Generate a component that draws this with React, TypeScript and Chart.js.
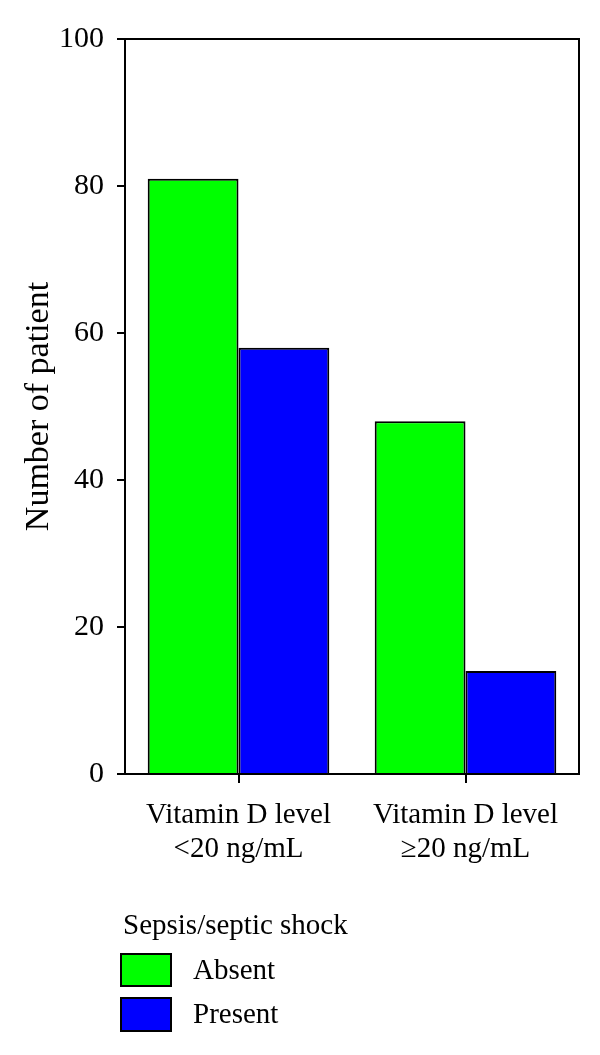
import React, { useEffect, useRef } from "react";
import { Chart, registerables } from "chart.js";

Chart.register(...registerables);

const categories: string[][] = [
  ["Vitamin D level", "<20 ng/mL"],
  ["Vitamin D level", "\u226520 ng/mL"],
];
const absentValues = [81, 48];
const presentValues = [58, 14];
const seriesNames = ["Absent", "Present"];
const seriesColors = ["#00FF00", "#0000FF"];
const legendTitle = "Sepsis/septic shock";
const yTitle = "Number of patient";
const yMin = 0;
const yMax = 100;
const yStep = 20;

const FONT = "'Liberation Serif', 'Times New Roman', serif";

const legendPlugin = {
  id: "customLegend",
  afterDraw(chart: any) {
    const ctx = chart.ctx;
    const a = chart.chartArea;
    ctx.save();
    ctx.strokeStyle = "#000";
    ctx.lineWidth = 2;
    ctx.beginPath();
    ctx.moveTo(a.left, a.top);
    ctx.lineTo(a.right, a.top);
    ctx.lineTo(a.right, a.bottom);
    ctx.stroke();
    ctx.fillStyle = "#000";
    ctx.font = `29px ${FONT}`;
    ctx.textBaseline = "alphabetic";
    ctx.textAlign = "left";
    ctx.fillText(legendTitle, 123, 934);
    const boxes = [
      { y: 954, h: 32 },
      { y: 998, h: 33 },
    ];
    seriesNames.forEach((name, i) => {
      const b = boxes[i];
      ctx.fillStyle = seriesColors[i];
      ctx.fillRect(121, b.y, 50, b.h);
      ctx.strokeStyle = "#000";
      ctx.lineWidth = 2;
      ctx.strokeRect(121, b.y, 50, b.h);
      ctx.fillStyle = "#000";
      ctx.textBaseline = "middle";
      ctx.fillText(name, 193, b.y + b.h / 2 + 1);
    });
    ctx.restore();
  },
};

export default function App() {
  const ref = useRef<HTMLCanvasElement | null>(null);
  useEffect(() => {
    if (!ref.current) return;
    const chart = new Chart(ref.current, {
      type: "bar",
      data: {
        labels: categories as any,
        datasets: [
          {
            label: seriesNames[0],
            data: absentValues,
            backgroundColor: seriesColors[0],
            borderColor: "#000",
            borderWidth: 2,
          },
          {
            label: seriesNames[1],
            data: presentValues,
            backgroundColor: seriesColors[1],
            borderColor: "#000",
            borderWidth: 2,
          },
        ],
      },
      options: {
        responsive: false,
        animation: false,
        layout: { padding: { left: 0, top: 39, right: 21, bottom: 0 } },
        plugins: {
          legend: { display: false },
          tooltip: { enabled: false },
        },
        datasets: { bar: { categoryPercentage: 0.8, barPercentage: 1.0 } },
        scales: {
          x: {
            grid: {
              offset: false,
              drawOnChartArea: false,
              drawTicks: true,
              tickLength: 9,
              color: "#000",
              lineWidth: 2,
            },
            border: { display: true, color: "#000", width: 2 },
            ticks: {
              color: "#000",
              font: { family: FONT, size: 29, lineHeight: 1.15 },
              padding: 16,
              maxRotation: 0,
              autoSkip: false,
            },
            afterFit(scale: any) {
              scale.height = 281;
            },
          },
          y: {
            min: yMin,
            max: yMax,
            ticks: {
              stepSize: yStep,
              color: "#000",
              font: { family: FONT, size: 30 },
              padding: 13,
            },
            grid: {
              drawOnChartArea: false,
              drawTicks: true,
              tickLength: 8,
              color: "#000",
              lineWidth: 2,
            },
            border: { display: true, color: "#000", width: 2 },
            title: {
              display: true,
              text: yTitle,
              color: "#000",
              font: { family: FONT, size: 34 },
              padding: { top: 19, bottom: 0 },
            },
            afterFit(scale: any) {
              scale.width = 125;
            },
          },
        },
      },
      plugins: [legendPlugin],
    });
    return () => chart.destroy();
  }, []);
  return (
    <div style={{ position: "fixed", left: 0, top: 0, width: 600, height: 1055, background: "#fff" }}>
      <canvas ref={ref} width={600} height={1055} style={{ display: "block" }} />
    </div>
  );
}
